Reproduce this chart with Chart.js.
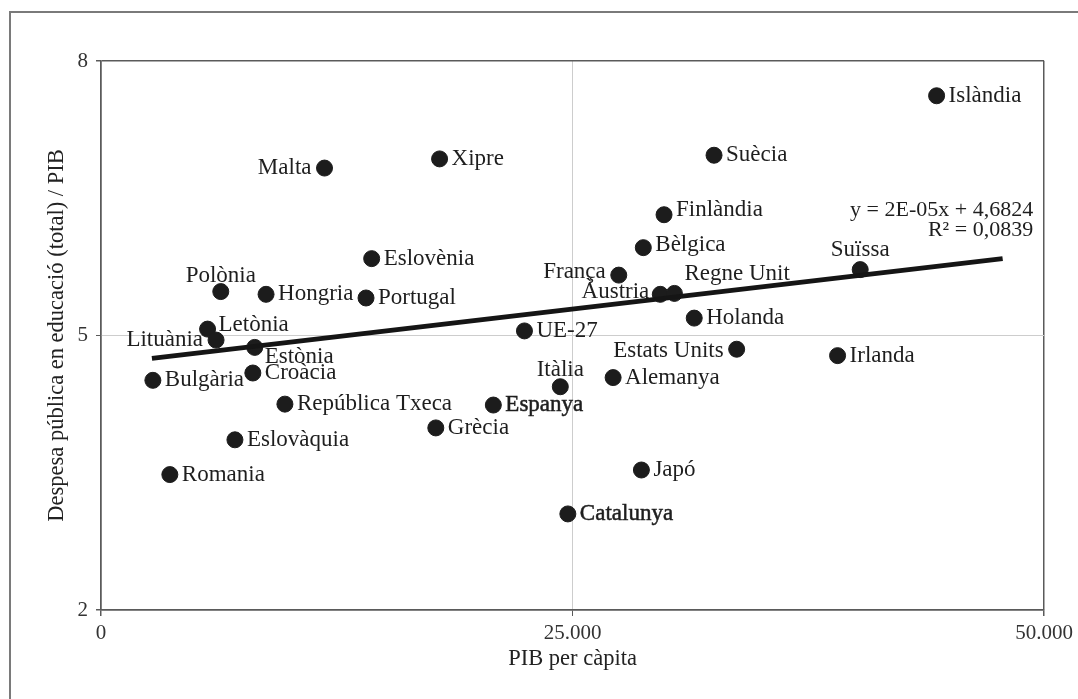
<!DOCTYPE html>
<html>
<head>
<meta charset="utf-8">
<script src="https://cdn.jsdelivr.net/npm/chart.js@4"></script>
<style>
  html, body { margin: 0; padding: 0; background: #fff; overflow: hidden; }
  #marc { position: absolute; left: 9px; top: 11px; width: 2000px; height: 2000px; border: 2px solid #7a7a7a; }
  #grafic { position: absolute; left: 0; top: 0; }
</style>
</head>
<body>
<div id="marc"></div>
<canvas id="grafic" width="1078" height="699"></canvas>
<script>
// Dades: PIB per càpita i despesa pública en educació / PIB
const paisos = ['Islàndia', 'Suècia', 'Xipre', 'Malta', 'Finlàndia', 'Bèlgica', 'França', 'Suïssa',
    'Àustria', 'Regne Unit', 'Holanda', 'Estats Units', 'Irlanda', 'Eslovènia', 'Portugal', 'Hongria',
    'Polònia', 'Letònia', 'Lituània', 'Estònia', 'Croàcia', 'Bulgària', 'República Txeca', 'Eslovàquia',
    'Romania', 'UE-27', 'Itàlia', 'Alemanya', 'Espanya', 'Grècia', 'Japó', 'Catalunya'];
const pib = [44300, 32500, 17950, 11850, 29850, 28750, 27450, 40250,
    29650, 30400, 31450, 33700, 39050, 14350, 14050, 8750,
    6350, 5650, 6100, 8150, 8050, 2750, 9750, 7100,
    3650, 22450, 24350, 27150, 20800, 17750, 28650, 24750];
const despesa = [7.62, 6.97, 6.93, 6.83, 6.32, 5.96, 5.66, 5.72,
    5.45, 5.46, 5.19, 4.85, 4.78, 5.84, 5.41, 5.45,
    5.48, 5.07, 4.95, 4.87, 4.59, 4.51, 4.25, 3.86,
    3.48, 5.05, 4.44, 4.54, 4.24, 3.99, 3.53, 3.05];

// Recta de regressió (extrems)
const tendenciaX = [2700, 47800];
const tendenciaY = [4.75, 5.84];
const equacio = ['y = 2E-05x + 4,6824', 'R² = 0,0839'];

// Eixos
const ticksX = [0, 25000, 50000];
const ticksY = [2, 5, 8];

const lletra = '"Liberation Serif", "DejaVu Serif", serif';

// Posició de cada etiqueta respecte al punt: [dx, dy, alineació]
const posEtiqueta = {
    'Malta': [-13, 0, 'right'],
    'França': [-13, -3, 'right'],
    'Àustria': [-11, -2, 'right'],
    'Lituània': [-13, 0, 'right'],
    'Estats Units': [-13, 2, 'right'],
    'Polònia': [0, -16, 'center'],
    'Suïssa': [0, -20, 'center'],
    'Itàlia': [0, -17, 'center'],
    'Regne Unit': [10, -19, 'left'],
    'Estònia': [10, 10, 'left'],
    'Finlàndia': [12, -5, 'left'],
    'Bèlgica': [12, -3, 'left'],
    'Letònia': [11, -4, 'left']
};
const destacats = ['Espanya', 'Catalunya'];

const etiquetes = {
    id: 'etiquetes',
    afterDatasetsDraw(chart) {
        const ctx = chart.ctx;
        const meta = chart.getDatasetMeta(1);
        ctx.save();
        ctx.fillStyle = '#1e1e1e';
        ctx.strokeStyle = '#1e1e1e';
        ctx.lineWidth = 0.5;
        ctx.textBaseline = 'middle';
        ctx.font = '23px ' + lletra;
        meta.data.forEach((p, i) => {
            const nom = paisos[i];
            const pos = posEtiqueta[nom] || [12, 0, 'left'];
            ctx.textAlign = pos[2];
            ctx.fillText(nom, p.x + pos[0], p.y + pos[1]);
            // els destacats una mica més gruixuts
            if (destacats.includes(nom)) {
                ctx.strokeText(nom, p.x + pos[0], p.y + pos[1]);
            }
        });
        // equació de la recta
        const area = chart.chartArea;
        ctx.font = '22px ' + lletra;
        ctx.textAlign = 'right';
        ctx.fillText(equacio[0], area.right - 11, 210);
        ctx.fillText(equacio[1], area.right - 11, 230);
        ctx.restore();
    }
};

function colorGraella(valorMig) {
    return (c) => c.tick && c.tick.value === valorMig ? '#cdcdcd' : '#5a5a5a';
}

new Chart(document.getElementById('grafic'), {
    type: 'scatter',
    data: {
        datasets: [
            {
                type: 'line',
                data: tendenciaX.map((x, i) => ({ x: x, y: tendenciaY[i] })),
                borderColor: '#151515',
                borderWidth: 5,
                pointRadius: 0,
                fill: false
            },
            {
                data: pib.map((x, i) => ({ x: x, y: despesa[i] })),
                backgroundColor: '#1c1c1c',
                borderColor: '#1c1c1c',
                pointRadius: 8,
                pointHoverRadius: 8
            }
        ]
    },
    options: {
        responsive: false,
        animation: false,
        devicePixelRatio: 1,
        layout: { padding: { top: 61, right: 33, left: 0, bottom: 0 } },
        plugins: {
            legend: { display: false },
            tooltip: { enabled: false }
        },
        scales: {
            x: {
                type: 'linear',
                min: 0,
                max: 50000,
                afterBuildTicks: (s) => { s.ticks = ticksX.map(v => ({ value: v })); },
                afterFit: (s) => { s.height = 89; },
                grid: {
                    color: colorGraella(25000),
                    lineWidth: (c) => c.tick && c.tick.value === 25000 ? 1 : 1.5,
                    tickColor: '#5a5a5a',
                    tickLength: 6,
                    drawTicks: true
                },
                border: { display: true, color: '#5a5a5a', width: 1.5 },
                ticks: {
                    color: '#333',
                    padding: 5,
                    maxRotation: 0,
                    font: { family: lletra, size: 21 },
                    callback: (v) => v === 0 ? '0' : (v / 1000) + '.000'
                },
                title: {
                    display: true,
                    text: 'PIB per càpita',
                    color: '#222',
                    font: { family: lletra, size: 22.5 },
                    padding: { top: 0, bottom: 26 }
                }
            },
            y: {
                type: 'linear',
                min: 2,
                max: 8,
                afterBuildTicks: (s) => { s.ticks = ticksY.map(v => ({ value: v })); },
                afterFit: (s) => { s.width = 101; },
                grid: {
                    color: colorGraella(5),
                    lineWidth: (c) => c.tick && c.tick.value === 5 ? 1 : 1.5,
                    tickColor: '#5a5a5a',
                    tickLength: 5,
                    drawTicks: true
                },
                border: { display: true, color: '#5a5a5a', width: 1.5 },
                ticks: {
                    color: '#333',
                    padding: 8,
                    font: { family: lletra, size: 21 }
                },
                title: {
                    display: true,
                    text: 'Despesa pública en educació (total) / PIB',
                    color: '#222',
                    font: { family: lletra, size: 22.5 },
                    padding: { top: 44, bottom: 0 }
                }
            }
        }
    },
    plugins: [etiquetes]
});
</script>
</body>
</html>
